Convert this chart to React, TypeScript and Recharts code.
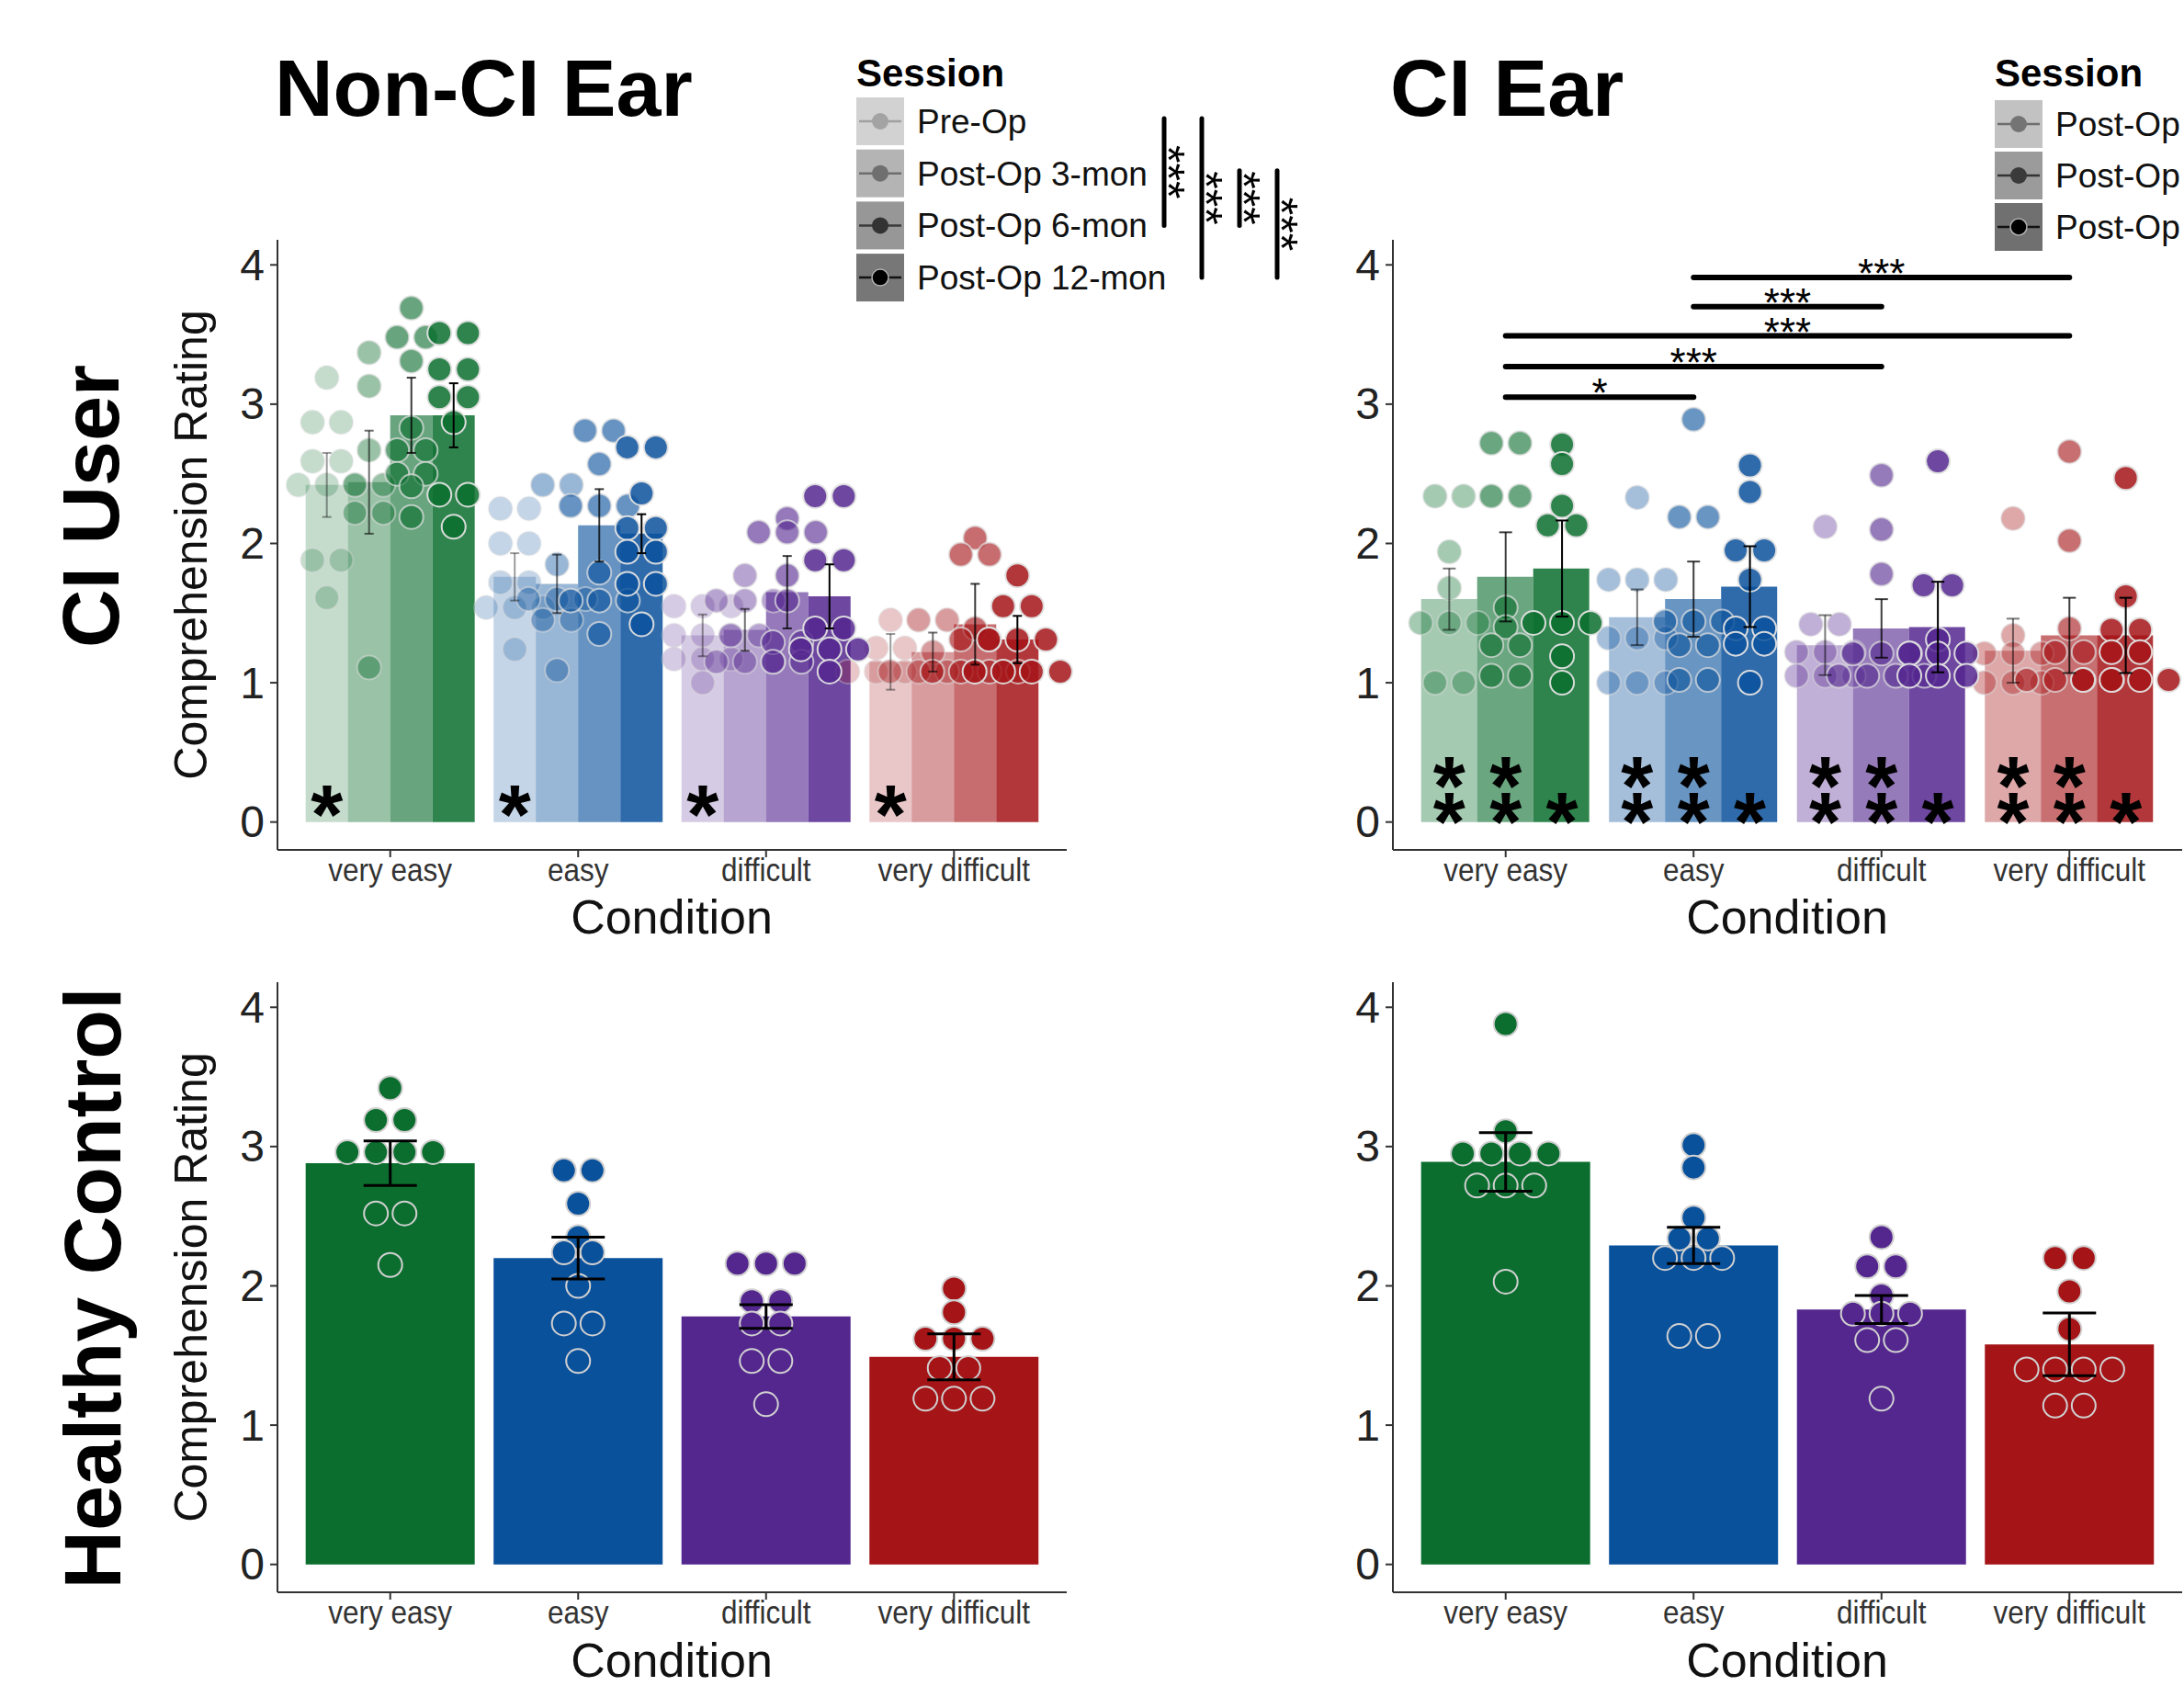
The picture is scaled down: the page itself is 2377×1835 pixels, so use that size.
import React from 'react';
import { ComposedChart, Bar, Cell, Scatter, ErrorBar, XAxis, YAxis, ReferenceLine } from 'recharts';

const FONT = '"Liberation Sans", Arial, Helvetica, sans-serif';

const conditions = ['very easy', 'easy', 'difficult', 'very difficult'];
const nonCiSessions = ['Pre-Op', 'Post-Op 3-mon', 'Post-Op 6-mon', 'Post-Op 12-mon'];
const ciSessions = ['Post-Op 3-mon', 'Post-Op 6-mon', 'Post-Op 12-mon'];
const columnTitles = ['Non-CI Ear', 'CI Ear'];
const rowTitles = ['CI User', 'Healthy Control'];
const yTicks = [0, 1, 2, 3, 4];

// CI users, non-CI ear: [session][condition]
const nonCiMean = [
  [2.42, 1.76, 1.34, 1.15],
  [2.44, 1.71, 1.38, 1.22],
  [2.92, 2.13, 1.65, 1.42],
  [2.92, 2.07, 1.62, 1.31],
];
const nonCiSe = [
  [0.23, 0.17, 0.15, 0.2],
  [0.37, 0.21, 0.15, 0.14],
  [0.27, 0.26, 0.26, 0.29],
  [0.23, 0.14, 0.23, 0.17],
];
const nonCiDots = [
  [
    [3.19, 2.87, 2.87, 2.59, 2.59, 2.42, 2.42, 2.42, 1.88, 1.88, 1.61],
    [2.25, 2.25, 2.0, 2.0, 1.72, 1.72, 1.54, 1.54, 1.54, 1.24],
    [1.55, 1.55, 1.55, 1.34, 1.34, 1.34, 1.17, 1.17, 1.17, 1.0],
    [1.45, 1.25, 1.25, 1.08, 1.08, 1.08, 1.08],
  ],
  [
    [3.37, 3.13, 2.67, 2.42, 2.42, 2.22, 2.22, 1.11],
    [2.42, 2.42, 1.85, 1.6, 1.6, 1.6, 1.45, 1.45, 1.09],
    [1.77, 1.59, 1.59, 1.59, 1.34, 1.34, 1.15, 1.15, 1.15],
    [1.45, 1.45, 1.22, 1.08, 1.08, 1.08, 1.08],
  ],
  [
    [3.69, 3.48, 3.48, 3.31, 2.83, 2.67, 2.67, 2.5, 2.5, 2.41, 2.19],
    [2.81, 2.81, 2.57, 2.27, 2.27, 2.27, 1.79, 1.59, 1.59, 1.59, 1.35],
    [2.18, 2.08, 2.08, 2.08, 1.77, 1.59, 1.29, 1.29, 1.15, 1.15],
    [2.04, 1.92, 1.92, 1.39, 1.31, 1.31, 1.08, 1.08, 1.08, 1.08],
  ],
  [
    [3.51, 3.51, 3.25, 3.25, 3.05, 3.05, 2.87, 2.35, 2.35, 2.12],
    [2.69, 2.69, 2.36, 2.11, 2.11, 1.94, 1.94, 1.71, 1.71, 1.42],
    [2.34, 2.34, 1.88, 1.88, 1.39, 1.39, 1.24, 1.24, 1.24, 1.08],
    [1.77, 1.55, 1.55, 1.31, 1.31, 1.31, 1.08, 1.08, 1.08, 1.08],
  ],
];

// CI users, CI ear: [session][condition]
const ciMean = [
  [1.6, 1.47, 1.27, 1.23],
  [1.76, 1.6, 1.39, 1.34],
  [1.82, 1.69, 1.4, 1.34],
];
const ciSe = [
  [0.22, 0.2, 0.215, 0.23],
  [0.32, 0.27, 0.21, 0.27],
  [0.345, 0.29, 0.325, 0.27],
];
const ciDots = [
  [
    [2.34, 2.34, 1.94, 1.68, 1.43, 1.43, 1.43, 1.0, 1.0],
    [2.33, 1.74, 1.74, 1.74, 1.32, 1.32, 1.32, 1.0, 1.0, 1.0],
    [2.12, 1.42, 1.42, 1.22, 1.22, 1.22, 1.05, 1.05, 1.05],
    [2.18, 1.34, 1.21, 1.21, 1.21, 1.0, 1.0, 1.0],
  ],
  [
    [2.72, 2.72, 2.34, 2.34, 1.54, 1.4, 1.27, 1.27, 1.05, 1.05],
    [2.89, 2.19, 2.19, 1.44, 1.44, 1.44, 1.27, 1.27, 1.02, 1.02],
    [2.49, 2.1, 1.78, 1.21, 1.21, 1.21, 1.05, 1.05, 1.05, 1.05],
    [2.66, 2.02, 1.39, 1.22, 1.22, 1.02, 1.02, 1.02, 1.02],
  ],
  [
    [2.71, 2.57, 2.27, 2.13, 2.13, 1.43, 1.43, 1.43, 1.19, 1.0],
    [2.56, 2.37, 1.95, 1.95, 1.74, 1.39, 1.39, 1.28, 1.28, 1.0],
    [2.59, 1.7, 1.7, 1.31, 1.21, 1.21, 1.21, 1.05, 1.05, 1.05],
    [2.47, 1.62, 1.38, 1.38, 1.22, 1.22, 1.02, 1.02, 1.02, 1.02],
  ],
];
// pairwise condition comparisons on the CI ear (condition indexes)
const ciSig = [
  { from: 1, to: 3, y: 3.91, label: '***' },
  { from: 1, to: 2, y: 3.7, label: '***' },
  { from: 0, to: 3, y: 3.49, label: '***' },
  { from: 0, to: 2, y: 3.27, label: '***' },
  { from: 0, to: 1, y: 3.05, label: '*' },
];
// session comparisons shown beside the non-CI legend
const legendSig = [[0, 2], [0, 3], [1, 2], [1, 3]];

// healthy controls: [condition]
const hcNonCiMean = [2.88, 2.2, 1.78, 1.49];
const hcNonCiSe = [0.16, 0.15, 0.085, 0.165];
const hcNonCiDots = [
  [3.42, 3.19, 3.19, 2.96, 2.96, 2.96, 2.96, 2.52, 2.52, 2.15],
  [2.83, 2.83, 2.59, 2.35, 2.24, 2.24, 2.0, 1.73, 1.73, 1.46],
  [2.16, 2.16, 2.16, 1.89, 1.89, 1.73, 1.73, 1.46, 1.46, 1.15],
  [1.98, 1.81, 1.62, 1.62, 1.62, 1.41, 1.41, 1.19, 1.19, 1.19],
];
const hcCiMean = [2.89, 2.29, 1.83, 1.58];
const hcCiSe = [0.21, 0.13, 0.1, 0.225];
const hcCiDots = [
  [3.88, 3.11, 2.95, 2.95, 2.95, 2.95, 2.72, 2.72, 2.72, 2.03],
  [3.01, 2.85, 2.49, 2.34, 2.34, 2.2, 2.2, 2.2, 1.64, 1.64],
  [2.35, 2.14, 2.14, 1.93, 1.8, 1.8, 1.8, 1.61, 1.61, 1.19],
  [2.2, 2.2, 1.96, 1.69, 1.4, 1.4, 1.4, 1.4, 1.14, 1.14],
];

// one hue per condition, sessions shown as increasing opacity
const conditionColors = ['#0b6e2e', '#0a519c', '#54278f', '#a51417'];
const nonCiAlpha = [0.24, 0.42, 0.62, 0.85];
const ciAlpha = [0.37, 0.61, 0.85];
const hcAlpha = [1];

const PLOT_W = 859;
const PLOT_H = 664;
const YW = 140;
const MT = 10;
const MR = 20;
const XH = 110;
const CW = YW + PLOT_W + MR;
const CH = MT + PLOT_H + XH;
const PAD = (PLOT_W * 0.1) / 4.2;
const Y_DOMAIN = [-0.2, 4.18];
const PX_PER_UNIT = PLOT_H / (Y_DOMAIN[1] - Y_DOMAIN[0]);
const DOT_STEP = 0.152;

const center = (ci: number, si: number, n: number) => ci + 1 - 0.45 + ((si + 0.5) * 0.9) / n;

function stackRow(values: number[], cx: number) {
  const counts = new Map<number, number>();
  values.forEach((v) => counts.set(v, (counts.get(v) || 0) + 1));
  const pts: { x: number; y: number }[] = [];
  counts.forEach((k, v) => {
    for (let i = 0; i < k; i++) pts.push({ x: cx + (i - (k - 1) / 2) * DOT_STEP, y: v });
  });
  return pts;
}

const XTick = (props: any) => {
  const { x, y, payload } = props;
  return (
    <g transform={`translate(${x},${y})`}>
      <text transform="scale(0.9,1)" y={24} textAnchor="middle" fontSize={35} fill="#333" fontFamily={FONT}>
        {payload.value}
      </text>
    </g>
  );
};

const YTick = (props: any) => {
  const { x, y, payload } = props;
  return (
    <text x={x} y={y} textAnchor="end" dominantBaseline="central" fontSize={48} fill="#222" fontFamily={FONT}>
      {payload.value}
    </text>
  );
};

const emptyShape = () => <g />;

// stacked asterisks inside a bar, one text element per bar
const starShape = (props: any) => {
  const levels: number[] = props.payload.levels;
  return (
    <text x={props.cx} y={props.cy + 51} textAnchor="middle" fontSize={90} fontWeight="bold" fill="#000" fontFamily={FONT}>
      {levels.map((lv, i) => (
        <tspan key={i} x={props.cx} dy={i === 0 ? 0 : (levels[i - 1] - lv) * PX_PER_UNIT}>
          *
        </tspan>
      ))}
    </text>
  );
};

const sigLabelShape = (props: any) => (
  <text x={props.cx} y={props.cy + 11} textAnchor="middle" fontSize={44} fill="#000" fontFamily={FONT}>
    {props.payload.label}
  </text>
);

type PanelProps = {
  left: number;
  top: number;
  means: number[][];
  se: number[][];
  dots: number[][][];
  alpha: number[];
  errWidth: number;
  errStroke: number;
  dotStroke: string;
  stars?: { session: number; levels: number[] }[];
  sig?: { from: number; to: number; y: number; label: string }[];
};

function Panel(p: PanelProps) {
  const n = p.means.length;
  const rows = conditions.map((c, ci) => {
    const r: Record<string, any> = { cond: c };
    p.means.forEach((m, si) => (r[`s${si}`] = m[ci]));
    return r;
  });
  const dotShape = (props: any) => (
    <circle
      cx={props.cx}
      cy={props.cy}
      r={13}
      fill={props.payload.fill}
      fillOpacity={props.payload.alpha}
      stroke={p.dotStroke}
      strokeOpacity={Math.min(1, props.payload.alpha + 0.1)}
      strokeWidth={2}
    />
  );
  const starPts = p.stars
    ? conditions.flatMap((c, ci) =>
        p.stars!.map((st) => {
          const levels = [...st.levels].sort((a, b) => b - a);
          return { x: center(ci, st.session, n), y: levels[0], levels };
        })
      )
    : [];
  return (
    <div style={{ position: 'absolute', left: p.left, top: p.top }}>
      <ComposedChart
        width={CW}
        height={CH}
        data={rows}
        margin={{ top: MT, right: MR, bottom: 0, left: 0 }}
        barCategoryGap="5%"
        barGap={0}
      >
        <XAxis
          xAxisId="cat"
          dataKey="cond"
          type="category"
          interval={0}
          padding={{ left: PAD, right: PAD }}
          height={XH}
          tickSize={8}
          tickLine={{ stroke: '#333', strokeWidth: 2 }}
          axisLine={{ stroke: '#333', strokeWidth: 2 }}
          tick={<XTick />}
        />
        <XAxis xAxisId="num" type="number" dataKey="x" domain={[0.4, 4.6]} hide />
        <YAxis
          type="number"
          dataKey="y"
          domain={Y_DOMAIN}
          ticks={yTicks}
          interval={0}
          width={YW}
          tickSize={8}
          tickMargin={6}
          tickLine={{ stroke: '#333', strokeWidth: 2 }}
          axisLine={{ stroke: '#333', strokeWidth: 2 }}
          tick={<YTick />}
        />
        {p.means.map((_, si) => (
          <Bar key={`b${si}`} xAxisId="cat" dataKey={`s${si}`} isAnimationActive={false}>
            {conditions.map((c, ci) => (
              <Cell key={c} fill={conditionColors[ci]} fillOpacity={p.alpha[si]} />
            ))}
          </Bar>
        ))}
        {p.dots.map((bySession, si) => (
          <Scatter
            key={`d${si}`}
            xAxisId="num"
            data={conditions.flatMap((c, ci) =>
              stackRow(bySession[ci], center(ci, si, n)).map((pt) => ({
                ...pt,
                fill: conditionColors[ci],
                alpha: p.alpha[si],
              }))
            )}
            shape={dotShape}
            isAnimationActive={false}
          />
        ))}
        {p.means.map((m, si) => (
          <Scatter
            key={`e${si}`}
            xAxisId="num"
            data={conditions.map((c, ci) => ({ x: center(ci, si, n), y: m[ci], se: p.se[si][ci] }))}
            shape={emptyShape}
            isAnimationActive={false}
            zIndex={700}
          >
            <ErrorBar
              dataKey="se"
              direction="y"
              width={p.errWidth}
              stroke="#000"
              strokeOpacity={Math.min(1, p.alpha[si] + 0.15)}
              strokeWidth={p.errStroke}
              isAnimationActive={false}
              zIndex={700}
            />
          </Scatter>
        ))}
        {(p.sig || []).map((s, i) => (
          <ReferenceLine
            key={`r${i}`}
            xAxisId="num"
            segment={[
              { x: s.from + 1, y: s.y },
              { x: s.to + 1, y: s.y },
            ]}
            stroke="#000"
            strokeWidth={6}
            strokeLinecap="round"
            ifOverflow="visible"
          />
        ))}
        {p.sig && (
          <Scatter
            xAxisId="num"
            data={p.sig.map((s) => ({ x: (s.from + s.to) / 2 + 1, y: s.y, label: s.label }))}
            shape={sigLabelShape}
            isAnimationActive={false}
          />
        )}
        {p.stars && <Scatter xAxisId="num" data={starPts} shape={starShape} isAnimationActive={false} zIndex={800} />}
      </ComposedChart>
    </div>
  );
}

type KeyStyle = { bg: string; line: string; dot: string; ring?: string };
const nonCiKeys: KeyStyle[] = [
  { bg: '#d2d2d2', line: '#a0a0a0', dot: '#a3a3a3' },
  { bg: '#b4b4b4', line: '#6e6e6e', dot: '#6f6f6f' },
  { bg: '#979797', line: '#3a3a3a', dot: '#333333' },
  { bg: '#777777', line: '#111111', dot: '#000000', ring: '#b0b0b0' },
];
const ciKeys: KeyStyle[] = [
  { bg: '#c2c2c2', line: '#6e6e6e', dot: '#747474' },
  { bg: '#9b9b9b', line: '#333333', dot: '#3a3a3a' },
  { bg: '#707070', line: '#111111', dot: '#000000', ring: '#b0b0b0' },
];

function SessionLegend({ x, top, step, labels, keys }: { x: number; top: number; step: number; labels: string[]; keys: KeyStyle[] }) {
  return (
    <g>
      <text x={x} y={94} fontSize={42} fontWeight="bold" fill="#000">
        Session
      </text>
      {labels.map((lab, i) => {
        const ky = top + i * step;
        const k = keys[i];
        return (
          <g key={lab}>
            <rect x={x} y={ky} width={52} height={52} fill={k.bg} />
            <line x1={x + 3} x2={x + 49} y1={ky + 26} y2={ky + 26} stroke={k.line} strokeWidth={2.5} />
            <circle cx={x + 26} cy={ky + 26} r={9} fill={k.dot} stroke={k.ring || 'none'} strokeWidth={1.5} />
            <text x={x + 66} y={ky + 39} fontSize={37} fill="#111">
              {lab}
            </text>
          </g>
        );
      })}
    </g>
  );
}

function Overlay() {
  const rowC = (i: number) => 106 + 26 + i * 56.7;
  return (
    <svg
      width={2377}
      height={1835}
      style={{ position: 'absolute', left: 0, top: 0, pointerEvents: 'none' }}
      fontFamily={FONT}
    >
      <text x={299} y={126} fontSize={88} fontWeight="bold" fill="#000">
        {columnTitles[0]}
      </text>
      <text x={1513} y={126} fontSize={88} fontWeight="bold" fill="#000">
        {columnTitles[1]}
      </text>
      <text transform="translate(129,551) rotate(-90)" textAnchor="middle" fontSize={88} fontWeight="bold" fill="#000">
        {rowTitles[0]}
      </text>
      <text transform="translate(131,1402) rotate(-90)" textAnchor="middle" fontSize={88} fontWeight="bold" fill="#000">
        {rowTitles[1]}
      </text>
      {[593, 1401].map((cy) => (
        <text
          key={cy}
          transform={`translate(208,${cy}) rotate(-90)`}
          textAnchor="middle"
          dominantBaseline="central"
          fontSize={50}
          fill="#111"
        >
          Comprehension Rating
        </text>
      ))}
      {[
        [731, 998],
        [1945, 998],
        [731, 1807],
        [1945, 1807],
      ].map(([cx, cy]) => (
        <text key={`${cx}-${cy}`} x={cx} y={cy} textAnchor="middle" dominantBaseline="central" fontSize={52} fill="#111">
          Condition
        </text>
      ))}
      <SessionLegend x={932} top={106} step={56.7} labels={nonCiSessions} keys={nonCiKeys} />
      <SessionLegend x={2171} top={109} step={56} labels={ciSessions} keys={ciKeys} />
      {legendSig.map(([a, b], i) => {
        const lx = 1267 + i * 41;
        const y1 = rowC(a) - 3;
        const y2 = rowC(b);
        const mid = (y1 + y2) / 2;
        return (
          <g key={i}>
            <line x1={lx} x2={lx} y1={y1} y2={y2} stroke="#000" strokeWidth={5} strokeLinecap="round" />
            <text transform={`translate(${lx - 13},${mid}) rotate(90)`} textAnchor="middle" fontSize={50} fill="#000">
              ***
            </text>
          </g>
        );
      })}
    </svg>
  );
}

export default function App() {
  return (
    <div
      style={{
        position: 'absolute',
        left: 0,
        top: 0,
        width: 2377,
        height: 1835,
        overflow: 'hidden',
        background: '#fff',
        fontFamily: FONT,
      }}
    >
      <Panel
        left={302 - YW}
        top={261 - MT}
        means={nonCiMean}
        se={nonCiSe}
        dots={nonCiDots}
        alpha={nonCiAlpha}
        errWidth={5}
        errStroke={2}
        dotStroke="#e0e0e0"
        stars={[{ session: 0, levels: [0.18] }]}
      />
      <Panel
        left={1516 - YW}
        top={261 - MT}
        means={ciMean}
        se={ciSe}
        dots={ciDots}
        alpha={ciAlpha}
        errWidth={7}
        errStroke={2}
        dotStroke="#e0e0e0"
        stars={[
          { session: 0, levels: [0.13, 0.39] },
          { session: 1, levels: [0.13, 0.39] },
          { session: 2, levels: [0.13] },
        ]}
        sig={ciSig}
      />
      <Panel
        left={302 - YW}
        top={1069 - MT}
        means={[hcNonCiMean]}
        se={[hcNonCiSe]}
        dots={[hcNonCiDots]}
        alpha={hcAlpha}
        errWidth={29}
        errStroke={3}
        dotStroke="#d0d0d0"
      />
      <Panel
        left={1516 - YW}
        top={1069 - MT}
        means={[hcCiMean]}
        se={[hcCiSe]}
        dots={[hcCiDots]}
        alpha={hcAlpha}
        errWidth={29}
        errStroke={3}
        dotStroke="#d0d0d0"
      />
      <Overlay />
    </div>
  );
}
